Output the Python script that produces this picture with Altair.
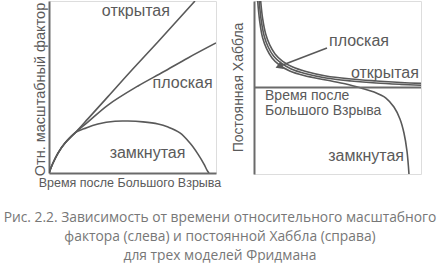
import altair as alt
import pandas as pd

# ---- Left panel: relative scale factor vs time ----
left_open_t = [0, 0.24, 0.54, 0.96, 1.56, 2.34, 3.53, 4.91, 6.53, 8.74]
left_open_a = [0, 0.58, 1.16, 1.74, 2.33, 3.16, 4.44, 5.93, 7.63, 10.0]

left_flat_t = [0, 0.24, 0.54, 0.96, 1.56, 2.34, 3.53, 5.33, 6.83, 8.32, 10.0]
left_flat_a = [0, 0.58, 1.16, 1.74, 2.33, 2.97, 3.95, 5.06, 5.87, 6.69, 7.56]

left_closed_t = [0, 0.24, 0.54, 0.96, 1.56, 2.22, 2.93, 3.95, 4.73, 5.63, 6.53, 7.13, 7.84, 8.44, 8.92, 9.28, 9.46, 9.58]
left_closed_a = [0, 0.58, 1.16, 1.74, 2.33, 2.62, 2.85, 3.01, 3.02, 2.97, 2.85, 2.67, 2.33, 1.74, 1.10, 0.52, 0.17, 0]

left_label_text = ["открытая", "плоская", "замкнутая"]
left_label_t = [5.2, 8.0, 5.9]
left_label_a = [9.42, 5.23, 1.16]

# ---- Right panel: Hubble constant vs time ----
right_open_t = [0.40, 0.52, 0.70, 0.94, 1.26, 1.70, 2.32, 3.11, 4.31, 5.81, 7.31, 8.80, 10.0]
right_open_h = [5.00, 3.96, 3.09, 2.46, 1.94, 1.53, 1.18, 0.92, 0.66, 0.49, 0.38, 0.29, 0.24]

right_flat_t = [0.31, 0.43, 0.61, 0.85, 1.17, 1.61, 2.23, 3.05, 4.31, 5.81, 7.31, 8.80, 10.0]
right_flat_h = [5.00, 3.90, 2.98, 2.34, 1.82, 1.42, 1.07, 0.81, 0.55, 0.38, 0.26, 0.18, 0.13]

right_closed_t = [0.22, 0.34, 0.52, 0.76, 1.08, 1.52, 2.14, 2.99, 4.31, 5.51, 6.41, 7.19, 7.90, 8.38, 8.74, 8.98, 9.16, 9.28]
right_closed_h = [5.00, 3.84, 2.86, 2.23, 1.71, 1.30, 0.95, 0.69, 0.43, 0.20, -0.03, -0.26, -0.61, -1.13, -1.82, -2.63, -3.67, -5.00]

right_label_text = ["плоская", "открытая", "замкнутая"]
right_label_t = [6.29, 7.84, 6.71]
right_label_h = [2.69, 0.84, -3.96]

right_axis_text = ["Время после", "Большого Взрыва"]
right_axis_t = [0.66, 0.66]
right_axis_h = [-0.49, -1.36]

arrow_t = [4.37, 1.56]
arrow_h = [2.28, 1.24]

caption = [
    "Рис. 2.2. Зависимость от времени относительного масштабного",
    "фактора (слева) и постоянной Хаббла (справа)",
    "для трех моделей Фридмана",
]

LINE = "#595959"
AXIS = "#6a6a6a"
TEXT = "#5a5a5a"
FONT = "Liberation Sans"
W = 167


def curves(ts, vs, names, xname, yname):
    rows = []
    for t, v, n in zip(ts, vs, names):
        for i, (a, b) in enumerate(zip(t, v)):
            rows.append({xname: a, yname: b, "model": n, "order": i})
    return pd.DataFrame(rows)


left_df = curves([left_open_t, left_flat_t, left_closed_t],
                 [left_open_a, left_flat_a, left_closed_a],
                 ["open", "flat", "closed"], "t", "a")
left_lab = pd.DataFrame({"t": left_label_t, "a": left_label_a, "txt": left_label_text})

xl = alt.X("t:Q", scale=alt.Scale(domain=[0, 10], nice=False, zero=False),
           axis=alt.Axis(title="Время после Большого Взрыва", labels=False, ticks=False,
                         grid=False, domainColor=AXIS, domainWidth=2,
                         titleFont=FONT, titleFontSize=12.5, titleFontWeight="normal",
                         titleColor=TEXT, titleX=80.5, titleY=9,
                         titleAlign="center", titleBaseline="middle"))
yl = alt.Y("a:Q", scale=alt.Scale(domain=[0, 10], nice=False, zero=False),
           axis=alt.Axis(title="Отн. масштабный фактор", labels=False, ticks=False,
                         grid=False, domainColor=AXIS, domainWidth=2, minExtent=0,
                         titleFont=FONT, titleFontSize=14.5, titleFontWeight="normal",
                         titleColor=TEXT, titleX=-9, titleY=88, titleAngle=270,
                         titleAlign="center", titleBaseline="middle"))

left_lines = alt.Chart(left_df).mark_line(
    color=LINE, strokeWidth=1.6, interpolate="catmull-rom", clip=True
).encode(x=xl, y=yl, detail="model:N", order="order:Q")

left_text = alt.Chart(left_lab).mark_text(
    font=FONT, fontSize=16, color=TEXT, align="center", baseline="middle"
).encode(x=alt.X("t:Q"), y=alt.Y("a:Q"), text="txt:N")

left = alt.layer(left_lines, left_text).properties(width=W, height=172)

# right panel
right_df = curves([right_open_t, right_flat_t, right_closed_t],
                  [right_open_h, right_flat_h, right_closed_h],
                  ["open", "flat", "closed"], "t", "h")
right_lab = pd.DataFrame({"t": right_label_t, "h": right_label_h, "txt": right_label_text})
right_ax = pd.DataFrame({"t": right_axis_t, "h": right_axis_h, "txt": right_axis_text})
arrow_df = pd.DataFrame({"t": arrow_t, "h": arrow_h, "i": [0, 1]})
zero_df = pd.DataFrame({"t0": [0], "t1": [10], "h": [0]})

xr = alt.X("t:Q", scale=alt.Scale(domain=[0, 10], nice=False, zero=False), axis=None)
yr = alt.Y("h:Q", scale=alt.Scale(domain=[-5, 5], nice=False, zero=False),
           axis=alt.Axis(title="Постоянная Хаббла", labels=False, ticks=False,
                         grid=False, domainColor=AXIS, domainWidth=2, minExtent=0,
                         titleFont=FONT, titleFontSize=14, titleFontWeight="normal",
                         titleColor=TEXT, titleX=-16, titleY=86, titleAngle=270,
                         titleAlign="center", titleBaseline="middle"))

zero_rule = alt.Chart(zero_df).mark_rule(color=AXIS, strokeWidth=2).encode(
    x=alt.X("t0:Q", scale=alt.Scale(domain=[0, 10], nice=False), axis=None),
    x2="t1:Q", y=alt.Y("h:Q"))

right_lines = alt.Chart(right_df).mark_line(
    color=LINE, strokeWidth=1.6, interpolate="catmull-rom", clip=True
).encode(x=xr, y=yr, detail="model:N", order="order:Q")

right_text = alt.Chart(right_lab).mark_text(
    font=FONT, fontSize=16, color=TEXT, align="center", baseline="middle"
).encode(x="t:Q", y="h:Q", text="txt:N")

right_axis_text_l = alt.Chart(right_ax).mark_text(
    font=FONT, fontSize=14, color=TEXT, align="left", baseline="middle"
).encode(x="t:Q", y="h:Q", text="txt:N")

arrow_line = alt.Chart(arrow_df).mark_line(color=LINE, strokeWidth=1.6).encode(
    x="t:Q", y="h:Q", order="i:Q")
arrow_head = alt.Chart(arrow_df[arrow_df.i == 1]).mark_point(
    shape="triangle", filled=True, color=LINE, size=70, angle=249, opacity=1
).encode(x="t:Q", y="h:Q")

right = alt.layer(right_lines, zero_rule, right_text, right_axis_text_l,
                  arrow_line, arrow_head).properties(width=W, height=173)

chart = alt.hconcat(left, right, spacing=8).properties(
    title=alt.TitleParams(text=caption, orient="bottom", anchor="middle",
                          font="Open Sans", fontSize=13.8, fontWeight="normal",
                          color="#777777", lineHeight=19, offset=22, dx=-7),
    padding={"left": 3, "top": 0, "right": 0, "bottom": 0},
).configure_view(stroke=None).configure(background="white")

chart.save("out.html", embed_options={"renderer": "svg", "actions": False})
